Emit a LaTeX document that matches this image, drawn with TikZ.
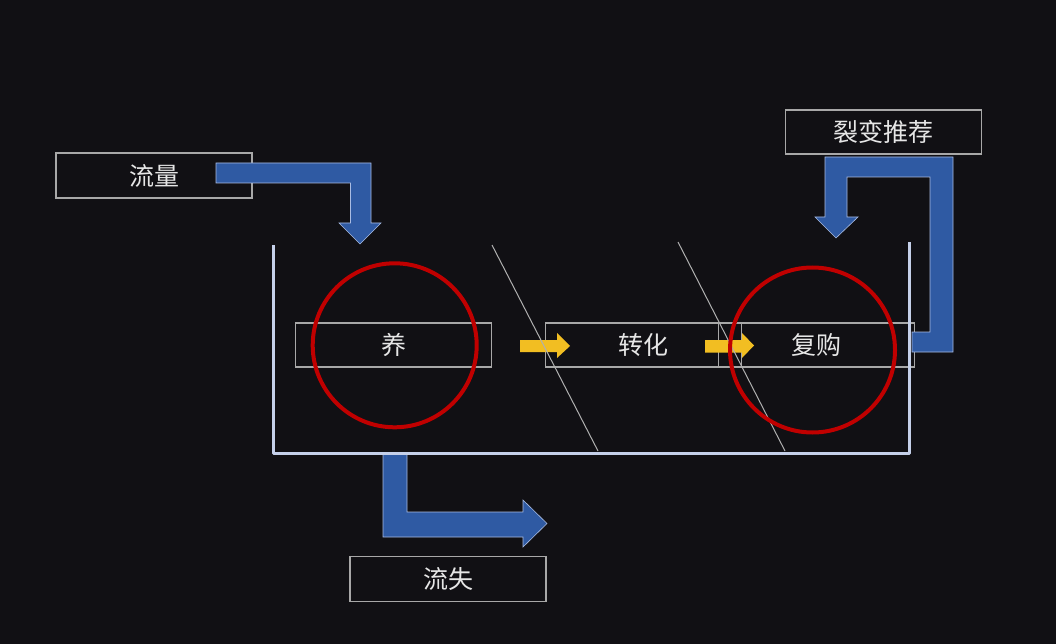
\documentclass[tikz,border=0pt]{standalone}
\usepackage{fontspec}
\newfontfamily\cjk{Noto Sans CJK SC}
\definecolor{bg}{HTML}{111014}
\definecolor{boxgray}{HTML}{A8A8A8}
\definecolor{txt}{HTML}{E6E6E6}
\definecolor{arrblue}{HTML}{2F5AA3}
\definecolor{arrborder}{HTML}{A9BCE3}
\definecolor{ringred}{HTML}{C00000}
\definecolor{gold}{HTML}{F2BE22}
\definecolor{divgray}{HTML}{B0B0B0}
\definecolor{tankc}{HTML}{C5D0EA}
\tikzset{
  labelbox/.style={draw=boxgray, line width=1.2pt, inner sep=0pt,
    minimum width=196pt, minimum height=44pt, text=txt,
    font=\cjk\fontsize{25}{30}\selectfont},
  blockarrow/.style={fill=arrblue, draw=arrborder, line width=0.6pt},
  ring/.style={draw=ringred, line width=4pt, circle, inner sep=0pt},
  yarrow/.style={fill=gold},
  divider/.style={draw=divgray, line width=1pt},
  tank/.style={draw=tankc, line width=3pt, line join=round}
}
\begin{document}
\begin{tikzpicture}[x=1pt,y=-1pt]
\fill[bg] (0,0) rectangle (1056,644);
\useasboundingbox (0,0) rectangle (1056,644);

% label boxes
\node[labelbox, minimum height=45pt] (flow) at (154,175.5) {流量};
\node[labelbox] (yang) at (393.5,345) {养};
\node[labelbox] (zhuan) at (643.5,345) {转化};
\node[labelbox] (fugou) at (816.5,345) {复购};
\node[labelbox] (liebian) at (883.5,132) {裂变推荐};
\node[labelbox, minimum height=45pt] (liushi) at (448,579) {流失};

% blue block arrows
\path[blockarrow] (216,163) -- (371,163) -- (371,223) -- (381,223) -- (360,244)
  -- (339,223) -- (350.5,223) -- (350.5,183) -- (216,183) -- cycle;
\path[blockarrow] (912,332) -- (930,332) -- (930,177) -- (847,177) -- (847,217)
  -- (858,217) -- (836,238) -- (815,217) -- (825,217) -- (825,157) -- (953,157)
  -- (953,352) -- (912,352) -- cycle;
\path[blockarrow] (383,453) -- (407,453) -- (407,512) -- (523,512) -- (523,500)
  -- (547,523.5) -- (523,547) -- (523,537) -- (383,537) -- cycle;

% tank
\draw[tank] (273,245) -- (273,453) -- (909,453) -- (909,242);

% yellow arrows
\path[yarrow] (520,340) -- (557,340) -- (557,333) -- (570,346) -- (557,358)
  -- (557,352) -- (520,352) -- cycle;
\path[yarrow] (705,340) -- (742,340) -- (742,333) -- (754,345.5) -- (742,358)
  -- (742,352.5) -- (705,352.5) -- cycle;

% dividers
\draw[divider] (492,245) -- (598,451);
\draw[divider] (678,242) -- (785,451);

% red rings
\node[ring, minimum size=164pt] (r1) at (394.7,345.3) {};
\node[ring, minimum size=165pt] (r2) at (812.5,350) {};
\end{tikzpicture}
\end{document}
